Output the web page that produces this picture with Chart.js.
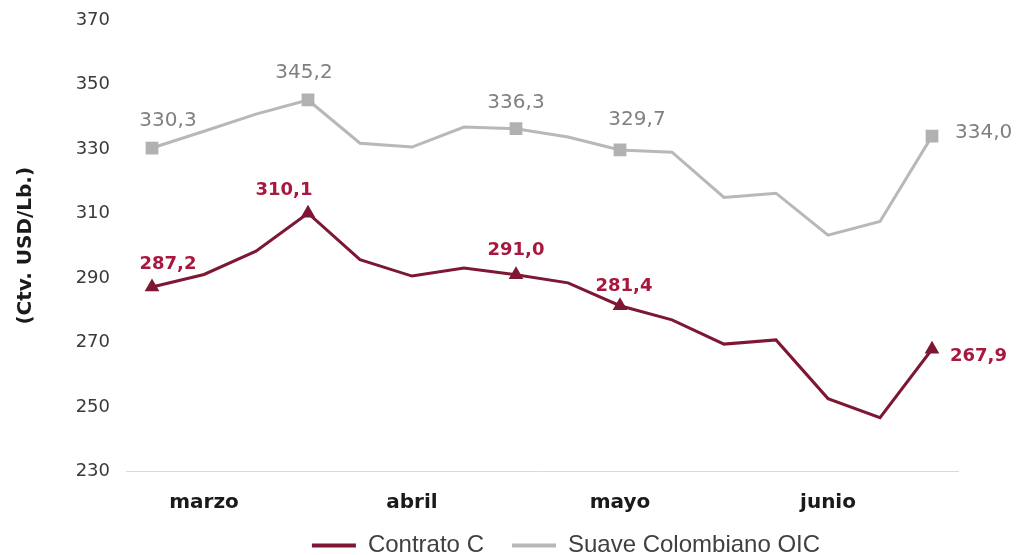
<!DOCTYPE html>
<html><head><meta charset="utf-8">
<script src="https://cdn.jsdelivr.net/npm/chart.js@4.4.0/dist/chart.umd.min.js"></script>
<style>html,body{margin:0;padding:0;background:#fff}#wrap{width:1016px;height:555px}</style>
</head><body><div id="wrap"><canvas id="c" width="1016" height="555"></canvas></div>
<script>
const categories = ["", "marzo", "", "", "", "abril", "", "", "", "mayo", "", "", "", "junio", "", ""];
const contratoC = [287.2, 291.1, 298.3, 310.1, 295.7, 290.6, 293.1, 291.0, 288.5, 281.4, 277.0, 269.5, 270.8, 252.6, 246.7, 267.9];
const suaveOIC = [330.3, 335.5, 340.8, 345.2, 331.8, 330.6, 336.8, 336.3, 333.7, 329.7, 329.0, 315.0, 316.3, 303.3, 307.5, 334.0];
const labeledIdx = [0, 3, 7, 9, 15];
const seriesNames = ["Contrato C", "Suave Colombiano OIC"];
const yMin = 230, yMax = 370, yStep = 20;
const yTitle = "(Ctv. USD/Lb.)";

const RED = '#7d1733', RED_LABEL = '#a8173d', GRAY = '#bab7b7', GRAY_MARK = '#b3b0b0', GRAY_LABEL = '#808080';

const labelStyle = [
  {color: RED_LABEL, font: 'bold 18px "DejaVu Sans"', off: {0:[16,-23],3:[-24,-23],7:[0,-24],9:[4,-19],15:[18,7,'left']}},
  {color: GRAY_LABEL, font: '20px "DejaVu Sans"', off: {0:[16,-27],3:[-4,-27],7:[0,-26],9:[17,-30],15:[23,-3,'left']}}
];

const fmt = v => v.toFixed(1).replace('.', ',');

const valueLabels = {
  id: 'valueLabels',
  afterLayout(chart) {
    const lg = chart.legend;
    if (lg) { lg.left += 24; lg.right += 24; }
    // let the month labels' descenders show (labels are clipped to the scale box)
    chart.scales.x.bottom += 14;
  },
  afterDatasetsDraw(chart) {
    const ctx = chart.ctx;
    chart.data.datasets.forEach((ds, di) => {
      const meta = chart.getDatasetMeta(di);
      const st = labelStyle[di];
      labeledIdx.forEach(i => {
        const el = meta.data[i];
        const o = st.off[i] || [0, -25];
        ctx.save();
        ctx.font = st.font;
        ctx.fillStyle = st.color;
        ctx.textAlign = o[2] || 'center';
        ctx.textBaseline = 'middle';
        ctx.fillText(fmt(ds.data[i]), el.x + o[0], el.y + o[1]);
        ctx.restore();
      });
    });
  }
};

const markRadius = r => c => labeledIdx.includes(c.dataIndex) ? r : 0;

new Chart(document.getElementById('c'), {
  type: 'line',
  data: {
    labels: categories,
    datasets: [
      {label: seriesNames[0], data: contratoC, borderColor: RED, backgroundColor: RED, borderWidth: 3,
       pointStyle: 'triangle', pointRadius: markRadius(8.5), pointHoverRadius: markRadius(8.5),
       pointBackgroundColor: RED, pointBorderWidth: 0, tension: 0},
      {label: seriesNames[1], data: suaveOIC, borderColor: GRAY, backgroundColor: GRAY, borderWidth: 3,
       pointStyle: 'rect', pointRadius: markRadius(9), pointHoverRadius: markRadius(9),
       pointBackgroundColor: GRAY_MARK, pointBorderWidth: 0, tension: 0}
    ]
  },
  options: {
    responsive: false,
    animation: false,
    devicePixelRatio: 1,
    layout: {padding: {top: 20, right: 58, left: 0, bottom: -12.5}},
    scales: {
      x: {
        offset: true,
        grid: {display: false, drawTicks: false, offset: false},
        border: {display: true, color: '#d9d9d9', width: 1},
        ticks: {autoSkip: false, maxRotation: 0, padding: 19, color: '#1a1a1a',
                font: {family: 'DejaVu Sans', size: 20, weight: 'bold'}},
        afterFit: s => { s.height = 34; s.paddingLeft = 0; s.paddingRight = 0; }
      },
      y: {
        min: yMin, max: yMax,
        grid: {display: false, drawTicks: false},
        border: {display: false},
        ticks: {stepSize: yStep, padding: 16, color: '#3a3a3a',
                font: {family: 'DejaVu Sans', size: 18}},
        title: {display: true, text: yTitle, color: '#1a1a1a', padding: {top: 14, bottom: 0},
                font: {family: 'DejaVu Sans', size: 20, weight: 'bold'}},
        afterFit: s => { s.width = 126; s.paddingTop = 0; s.paddingBottom = 0; }
      }
    },
    plugins: {
      legend: {
        position: 'bottom', fullSize: false,
        labels: {
          boxWidth: 44, boxHeight: 4, padding: 28, color: '#404040',
          font: {family: 'Liberation Sans', size: 24},
          generateLabels: ch => Chart.defaults.plugins.legend.labels.generateLabels(ch).map(l => Object.assign(l, {lineWidth: 0}))
        }
      },
      tooltip: {enabled: false}
    }
  },
  plugins: [valueLabels]
});
</script></body></html>
